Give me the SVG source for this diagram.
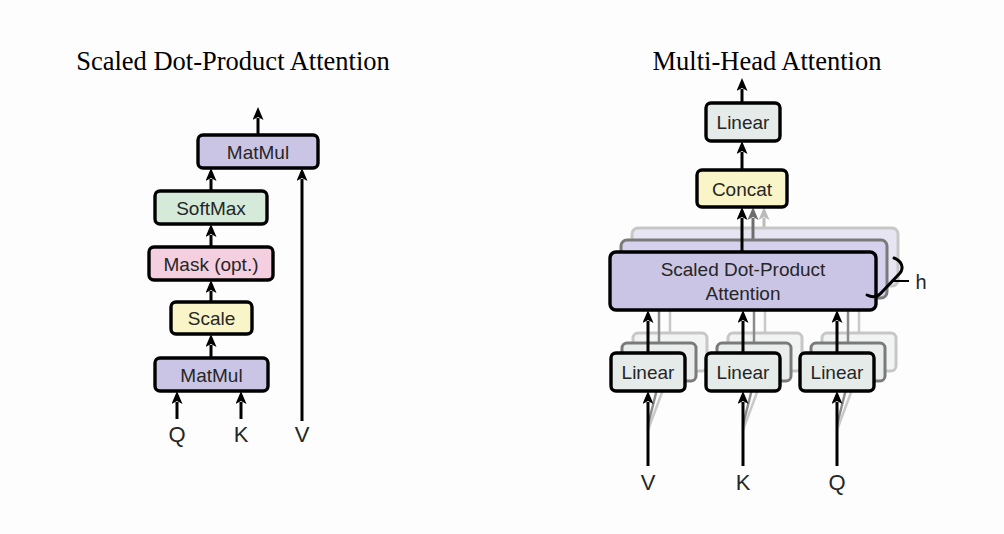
<svg xmlns="http://www.w3.org/2000/svg" width="1004" height="534" viewBox="0 0 1004 534">
  <defs>
    <marker id="ah" viewBox="0 0 13 11" refX="2" refY="5.5" markerWidth="13" markerHeight="11" markerUnits="userSpaceOnUse" orient="auto">
      <path d="M0,0 L13,5.5 L0,11 L3,5.5 z" fill="#000"/>
    </marker>
    <marker id="ahg" viewBox="0 0 13 11" refX="2" refY="5.5" markerWidth="13" markerHeight="11" markerUnits="userSpaceOnUse" orient="auto">
      <path d="M0,0 L13,5.5 L0,11 L3,5.5 z" fill="#6e6e6e"/>
    </marker>
    <marker id="ahl" viewBox="0 0 13 11" refX="2" refY="5.5" markerWidth="13" markerHeight="11" markerUnits="userSpaceOnUse" orient="auto">
      <path d="M0,0 L13,5.5 L0,11 L3,5.5 z" fill="#b4b4b4"/>
    </marker>
    <filter id="soft" x="-10%" y="-10%" width="120%" height="120%">
      <feGaussianBlur stdDeviation="0.7"/>
    </filter>
  </defs>
  <style>
    .box { stroke: #000; stroke-width: 3.4; }
    .b2 { stroke: #7a7a7a; stroke-width: 3; }
    .b3 { stroke: #c2c2c2; stroke-width: 3; }
    .lav { fill: #cbc5e5; }
    .lav2 { fill: #d6d1ec; }
    .lav3 { fill: #e6e3f2; }
    .grn { fill: #d5ead8; }
    .pnk { fill: #f4cfe0; }
    .yel { fill: #f9f5c8; }
    .gry { fill: #e5ebe8; }
    .gry2 { fill: #e9eeec; }
    .gry3 { fill: #f1f4f2; }
    .lbl { font-family: "Liberation Sans", Arial, sans-serif; font-size: 19px; fill: #262626; text-anchor: middle; }
    .io { font-family: "Liberation Sans", Arial, sans-serif; font-size: 22px; fill: #262626; text-anchor: middle; }
    .ttl { font-family: "Liberation Serif", "Times New Roman", serif; font-size: 26.5px; fill: #000; text-anchor: middle; }
    .ar { stroke: #000; stroke-width: 3; fill: none; marker-end: url(#ah); }
    .arg { stroke: #6e6e6e; stroke-width: 3; fill: none; marker-end: url(#ahg); }
    .arl { stroke: #b4b4b4; stroke-width: 3; fill: none; marker-end: url(#ahl); }
    .ln { stroke: #000; stroke-width: 3; fill: none; stroke-linecap: round; }
    .lng { stroke: #8a8a8a; stroke-width: 2.5; fill: none; }
    .lnl { stroke: #c4c4c4; stroke-width: 2.5; fill: none; }
  </style>
  <rect x="0" y="0" width="1004" height="534" fill="#fdfdfd"/>

  <!-- Titles -->
  <text class="ttl" x="233" y="70">Scaled Dot-Product Attention</text>
  <text class="ttl" x="767" y="70">Multi-Head Attention</text>

  <!-- ===== Left: Scaled Dot-Product Attention ===== -->
  <g id="left-connectors">
    <line class="ar" x1="258" y1="135" x2="258" y2="118"/>
    <line class="ar" x1="211" y1="191" x2="211" y2="179"/>
    <line class="ar" x1="211" y1="247" x2="211" y2="235"/>
    <line class="ar" x1="211" y1="302" x2="211" y2="291"/>
    <line class="ar" x1="211" y1="358" x2="211" y2="345"/>
    <line class="ar" x1="177" y1="419" x2="177" y2="402"/>
    <line class="ar" x1="241" y1="419" x2="241" y2="402"/>
    <line class="ar" x1="302" y1="421" x2="302" y2="179"/>
  </g>
  <g id="sdpa-matmul-top">
    <rect class="box lav" x="198" y="135" width="120" height="33" rx="5"/>
    <text class="lbl" x="258" y="158.5">MatMul</text>
  </g>
  <g id="sdpa-softmax">
    <rect class="box grn" x="155" y="191" width="112" height="33" rx="5"/>
    <text class="lbl" x="211" y="214.5">SoftMax</text>
  </g>
  <g id="sdpa-mask">
    <rect class="box pnk" x="149" y="247" width="124" height="33" rx="5"/>
    <text class="lbl" x="211" y="270.5">Mask (opt.)</text>
  </g>
  <g id="sdpa-scale">
    <rect class="box yel" x="171" y="302" width="81" height="32" rx="5"/>
    <text class="lbl" x="211.5" y="325">Scale</text>
  </g>
  <g id="sdpa-matmul-bottom">
    <rect class="box lav" x="155" y="358" width="113" height="33" rx="5"/>
    <text class="lbl" x="211.5" y="381.5">MatMul</text>
  </g>
  <g id="sdpa-inputs">
    <text class="io" x="177" y="442">Q</text>
    <text class="io" x="241" y="442">K</text>
    <text class="io" x="302" y="442">V</text>
  </g>

  <!-- ===== Right: Multi-Head Attention ===== -->
  <!-- back layer 3 -->
  <g id="mha-layer3" filter="url(#soft)" opacity="0.9">
    <line class="arl" x1="764" y1="228" x2="764" y2="218"/>
    <rect class="b3 lav3" x="632" y="228" width="266" height="58" rx="6"/>
    <line class="lnl" x1="670" y1="333" x2="670" y2="286"/>
    <line class="lnl" x1="765" y1="333" x2="765" y2="286"/>
    <line class="lnl" x1="859" y1="333" x2="859" y2="286"/>
    <line class="lnl" x1="648" y1="430" x2="670" y2="371"/>
    <line class="lnl" x1="743" y1="430" x2="765" y2="371"/>
    <line class="lnl" x1="837" y1="430" x2="859" y2="371"/>
    <rect class="b3 gry3" x="633" y="333" width="74" height="38" rx="5"/>
    <rect class="b3 gry3" x="728" y="333" width="74" height="38" rx="5"/>
    <rect class="b3 gry3" x="822" y="333" width="74" height="38" rx="5"/>
  </g>
  <!-- back layer 2 -->
  <g id="mha-layer2" filter="url(#soft)">
    <line class="arg" x1="753" y1="240" x2="753" y2="218"/>
    <rect class="b2 lav2" x="621" y="240" width="266" height="58" rx="6"/>
    <line class="lng" x1="659" y1="343" x2="659" y2="298"/>
    <line class="lng" x1="754" y1="343" x2="754" y2="298"/>
    <line class="lng" x1="848" y1="343" x2="848" y2="298"/>
    <line class="lng" x1="648" y1="425" x2="659" y2="381"/>
    <line class="lng" x1="743" y1="425" x2="754" y2="381"/>
    <line class="lng" x1="837" y1="425" x2="848" y2="381"/>
    <rect class="b2 gry2" x="622" y="343" width="74" height="38" rx="5"/>
    <rect class="b2 gry2" x="717" y="343" width="74" height="38" rx="5"/>
    <rect class="b2 gry2" x="811" y="343" width="74" height="38" rx="5"/>
  </g>

  <g id="mha-connectors">
    <line class="ar" x1="742" y1="103" x2="742" y2="89"/>
    <line class="ar" x1="742" y1="170" x2="742" y2="152"/>
    <line class="ar" x1="742" y1="252" x2="742" y2="218"/>
    <line class="ar" x1="648" y1="353" x2="648" y2="321"/>
    <line class="ar" x1="743" y1="353" x2="743" y2="321"/>
    <line class="ar" x1="837" y1="353" x2="837" y2="321"/>
    <line class="ar" x1="648" y1="466" x2="648" y2="402"/>
    <line class="ar" x1="743" y1="466" x2="743" y2="402"/>
    <line class="ar" x1="837" y1="466" x2="837" y2="402"/>
  </g>

  <g id="mha-linear-out">
    <rect class="box gry" x="706" y="103" width="74" height="38" rx="5"/>
    <text class="lbl" x="743" y="129">Linear</text>
  </g>
  <g id="mha-concat">
    <rect class="box yel" x="697" y="170" width="90" height="37" rx="5"/>
    <text class="lbl" x="742" y="195.5">Concat</text>
  </g>
  <g id="mha-sdpa">
    <rect class="box lav" x="610" y="252" width="266" height="58" rx="6"/>
    <text class="lbl" x="743" y="276">Scaled Dot-Product</text>
    <text class="lbl" x="743" y="300">Attention</text>
  </g>
  <g id="mha-linear-v">
    <rect class="box gry" x="611" y="353" width="74" height="38" rx="5"/>
    <text class="lbl" x="648" y="379">Linear</text>
  </g>
  <g id="mha-linear-k">
    <rect class="box gry" x="706" y="353" width="74" height="38" rx="5"/>
    <text class="lbl" x="743" y="379">Linear</text>
  </g>
  <g id="mha-linear-q">
    <rect class="box gry" x="800" y="353" width="74" height="38" rx="5"/>
    <text class="lbl" x="837" y="379">Linear</text>
  </g>
  <g id="mha-h">
    <path class="ln" d="M894,258 C902,261 904,268 900,273 L882,292 C878,297 873,298 867,295"/>
    <line stroke="#000" stroke-width="2" x1="892" y1="281" x2="909" y2="281"/>
    <text class="lbl" x="921" y="289" style="font-size:20px">h</text>
  </g>
  <g id="mha-inputs">
    <text class="io" x="648" y="490">V</text>
    <text class="io" x="743" y="490">K</text>
    <text class="io" x="837" y="490">Q</text>
  </g>
</svg>
